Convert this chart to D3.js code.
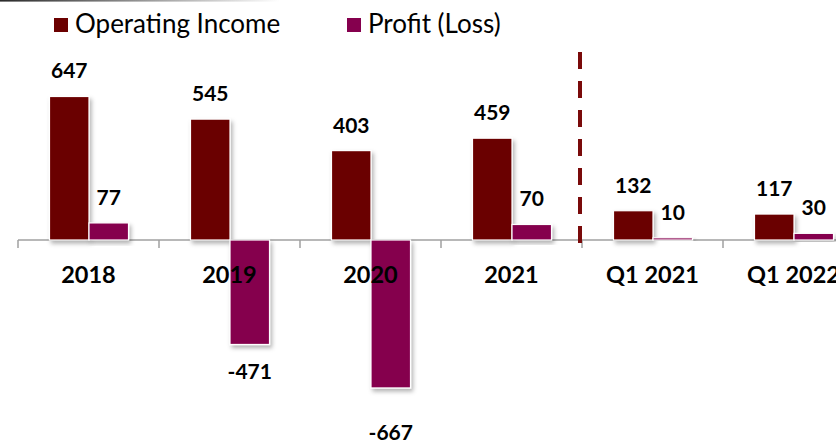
<!DOCTYPE html>
<html><head><meta charset="utf-8">
<script src="https://cdn.jsdelivr.net/npm/d3@7"></script>
<style>html,body{margin:0;padding:0;background:#fff;}svg{display:block;}</style>
</head><body>
<svg id="chart" width="836" height="444"></svg>
<script>
const categories = ["2018", "2019", "2020", "2021", "Q1 2021", "Q1 2022"];
const operatingIncome = [647, 545, 403, 459, 132, 117];
const profitLoss = [77, -471, -667, 70, 10, 30];
const seriesNames = ["Operating Income", "Profit (Loss)"];
const dividerBefore = "Q1 2021";

const colors = ["#6b0000", "#85004e"];
const W = 836, H = 444;
const svg = d3.select("#chart");
const defs = svg.append("defs");

const grad = defs.append("linearGradient").attr("id", "topline").attr("x1", "0").attr("x2", "1");
grad.append("stop").attr("offset", "0").attr("stop-color", "#2a2a2a");
grad.append("stop").attr("offset", "1").attr("stop-color", "#ffffff");
svg.append("rect").attr("x", 0).attr("y", 0).attr("width", 280).attr("height", 1.6).attr("fill", "url(#topline)");

const shadow = defs.append("filter").attr("id", "shadow").attr("x", "-20%").attr("y", "-20%").attr("width", "150%").attr("height", "150%");
shadow.append("feDropShadow").attr("dx", 2).attr("dy", 3).attr("stdDeviation", 2).attr("flood-color", "#000").attr("flood-opacity", 0.3);

const zeroY = 240, k = 0.2218;
const y = d3.scaleLinear().domain([-800, 800]).range([zeroY + 800 * k, zeroY - 800 * k]);
const x = d3.scaleBand().domain(categories).range([18, 18 + 141 * categories.length]).padding(0);
const x1 = d3.scaleBand().domain(seriesNames).range([31.5, 110.5]).padding(0);

const data = categories.map((c, i) => ({ cat: c, vals: [operatingIncome[i], profitLoss[i]] }));

// axis line with ticks at band boundaries
const axisG = svg.append("g");
axisG.append("line").attr("x1", x.range()[0]).attr("x2", x.range()[1]).attr("y1", zeroY).attr("y2", zeroY)
  .attr("stroke", "#a0a0a0").attr("stroke-width", 1.5);
categories.forEach(c => {
  axisG.append("line").attr("x1", x(c)).attr("x2", x(c)).attr("y1", zeroY).attr("y2", zeroY + 8)
    .attr("stroke", "#a0a0a0").attr("stroke-width", 1.5);
});

// bars
const groups = svg.append("g").selectAll("g").data(data).join("g")
  .attr("transform", d => `translate(${x(d.cat)},0)`);
groups.selectAll("rect").data(d => d.vals.map((v, j) => ({ v, j, name: seriesNames[j] }))).join("rect")
  .attr("x", d => x1(d.name))
  .attr("width", x1.bandwidth())
  .attr("y", d => Math.min(y(d.v), y(0)))
  .attr("height", d => Math.abs(y(d.v) - y(0)))
  .attr("fill", d => colors[d.j])
  .attr("stroke", "#fff").attr("stroke-width", 1.2)
  .attr("filter", "url(#shadow)");

// category labels
svg.append("g").selectAll("text").data(categories).join("text")
  .attr("x", d => x(d) + x.bandwidth() / 2).attr("y", 283)
  .attr("text-anchor", "middle")
  .attr("font-family", "Lato, 'Open Sans', sans-serif").attr("font-weight", "bold").attr("font-size", 23.5)
  .attr("fill", "#000").text(d => d);

// value labels
const negExtra = { "2020": 17 };
groups.selectAll("text").data(d => d.vals.map((v, j) => ({ v, j, name: seriesNames[j], cat: d.cat }))).join("text")
  .attr("x", d => x1(d.name) + x1.bandwidth() / 2)
  .attr("y", d => d.v >= 0 ? y(d.v) - 18 : y(d.v) + 35 + (negExtra[d.cat] || 0))
  .attr("text-anchor", "middle")
  .attr("font-family", "Lato, 'Open Sans', sans-serif").attr("font-weight", "bold").attr("font-size", 21)
  .attr("fill", "#000").text(d => d.v);

// divider
svg.append("line")
  .attr("x1", x(dividerBefore) - 2).attr("x2", x(dividerBefore) - 2)
  .attr("y1", 52).attr("y2", 243)
  .attr("stroke", "#7a0a0a").attr("stroke-width", 4).attr("stroke-dasharray", "17,12");

// legend
const legend = svg.append("g");
const legendX = [54, 347];
seriesNames.forEach((n, i) => {
  legend.append("rect").attr("x", legendX[i]).attr("y", 18).attr("width", 14).attr("height", 14).attr("fill", colors[i]);
  legend.append("text").attr("x", legendX[i] + 21).attr("y", 33)
    .attr("font-family", "Lato, 'Open Sans', sans-serif").attr("font-size", 26).attr("fill", "#000").text(n);
});
</script>
</body></html>
